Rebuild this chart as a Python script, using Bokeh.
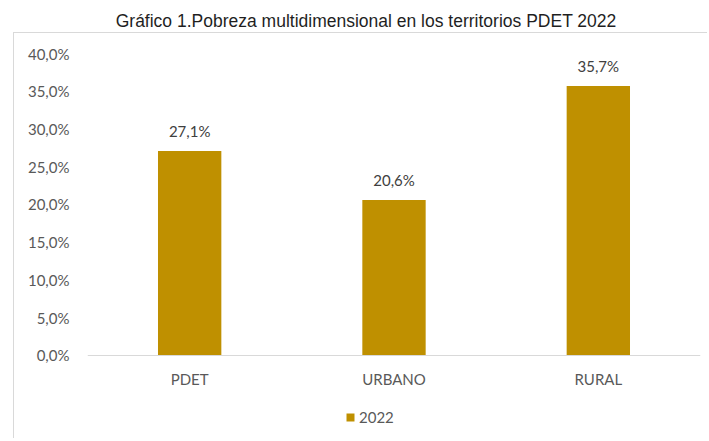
from bokeh.plotting import figure
from bokeh.models import (ColumnDataSource, FactorRange, FixedTicker, LabelSet,
                          Legend, LegendItem, Div, Range1d)
from bokeh.layouts import column
from bokeh.core.properties import value
from bokeh.embed import file_html
from bokeh.resources import INLINE

categories = ["PDET", "URBANO", "RURAL"]
values_2022 = [27.1, 20.6, 35.7]
series_name = "2022"
y_ticks = [0, 5, 10, 15, 20, 25, 30, 35, 40]
title_text = "Gráfico 1.Pobreza multidimensional en los territorios PDET 2022"

BAR = "#BF9000"
GRAY = "#595959"
FONT = "Lato"

labels = [f"{v:.1f}%".replace(".", ",") for v in values_2022]
src = ColumnDataSource(dict(cat=categories, val=values_2022, lab=labels))

title_div = Div(
    text=(f'<div style="width:680px; margin-left:26px; padding-top:9px; text-align:center; '
          f'font-family:\'Liberation Sans\', Arial, sans-serif; font-size:17.5px; '
          f'color:#1f1f1f; white-space:nowrap;">{title_text}</div>'),
    width=709, height=32, margin=0)

W, H = 694, 406
p = figure(width=W, height=H, x_range=FactorRange(*categories, range_padding=0),
           y_range=Range1d(-11.13, 40), output_backend="svg", toolbar_location=None,
           min_border_left=73, min_border_right=8, min_border_top=20, min_border_bottom=0,
           margin=(0, 0, 0, 13),
           styles={"border-top": "1px solid #D9D9D9", "border-left": "1px solid #D9D9D9"})
p.outline_line_color = None
p.grid.grid_line_color = None

r = p.vbar(x="cat", bottom=0, top="val", width=0.31, source=src,
           fill_color=BAR, line_color=None)

p.add_layout(LabelSet(x="cat", y="val", text="lab", source=src, text_align="center",
                      text_baseline="bottom", y_offset=11, text_font=value(FONT),
                      text_font_size="15px", text_color="#404040"))

# y axis
p.yaxis.ticker = FixedTicker(ticks=y_ticks)
p.yaxis.major_label_overrides = {t: f"{t:.1f}%".replace(".", ",") for t in y_ticks}
p.yaxis.axis_line_color = None
p.yaxis.major_tick_line_color = None
p.yaxis.minor_tick_line_color = None
p.yaxis.major_label_standoff = 12
p.yaxis.major_label_text_font = FONT
p.yaxis.major_label_text_font_size = "15px"
p.yaxis.major_label_text_color = GRAY

# x axis, drawn at the zero line
p.xaxis.fixed_location = 0
p.xaxis.axis_line_color = "#D9D9D9"
p.xaxis.axis_line_width = 1
p.xaxis.major_tick_line_color = None
p.xaxis.minor_tick_line_color = None
p.xaxis.major_label_standoff = 9
p.xaxis.major_label_text_font = FONT
p.xaxis.major_label_text_font_size = "15px"
p.xaxis.major_label_text_color = GRAY

legend = Legend(items=[LegendItem(label=series_name, renderers=[r])],
                location=(258, 13), orientation="horizontal",
                label_text_font=FONT, label_text_font_size="15px", label_text_color=GRAY,
                glyph_width=10, glyph_height=10, border_line_color=None,
                background_fill_alpha=0, padding=0, margin=0, label_standoff=4)
p.add_layout(legend, "center")

layout = column(title_div, p, spacing=0)
open("out.html", "w").write(file_html(layout, INLINE))
